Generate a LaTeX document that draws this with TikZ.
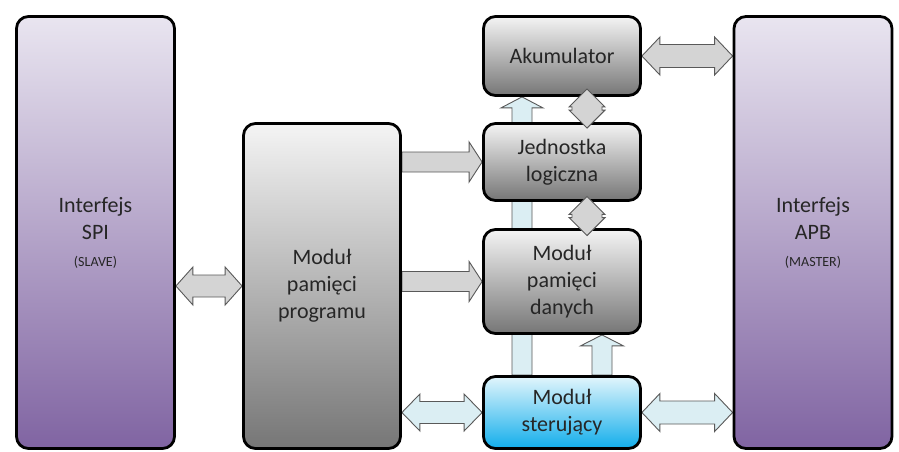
\documentclass[tikz,border=0pt]{standalone}
\usepackage{fontspec}
\setmainfont{Carlito}
\usetikzlibrary{calc,backgrounds}

\definecolor{purTop}{HTML}{E9E5F0}
\definecolor{purBot}{HTML}{8064A2}
\definecolor{gryTop}{HTML}{F4F4F4}
\definecolor{gryBot}{HTML}{767676}
\definecolor{bluTop}{HTML}{E2F5FC}
\definecolor{bluBot}{HTML}{12AEEB}
\definecolor{arrGray}{HTML}{D4D4D4}
\definecolor{arrBlue}{HTML}{DBEEF3}
\definecolor{arrEdge}{HTML}{595959}
\definecolor{txt}{HTML}{262626}

% horizontal double block arrow: style, left tip, right tip, shaft half width, head half width, head length
\newcommand\hdbl[6]{%
  \draw[#1] let \p1=(#2), \p2=(#3) in
    (\x1,\y1) -- (\x1+#6,\y1+#5) -- (\x1+#6,\y1+#4) -- (\x2-#6,\y1+#4) -- (\x2-#6,\y1+#5)
    -- (\x2,\y1) -- (\x2-#6,\y1-#5) -- (\x2-#6,\y1-#4) -- (\x1+#6,\y1-#4) -- (\x1+#6,\y1-#5) -- cycle;}
% horizontal single block arrow pointing right
\newcommand\hsgl[6]{%
  \draw[#1] let \p1=(#2), \p2=(#3) in
    (\x1,\y1+#4) -- (\x2-#6,\y1+#4) -- (\x2-#6,\y1+#5) -- (\x2,\y1)
    -- (\x2-#6,\y1-#5) -- (\x2-#6,\y1-#4) -- (\x1,\y1-#4) -- cycle;}
% vertical single block arrow pointing up: style, base, tip, ...
\newcommand\vsgl[6]{%
  \draw[#1] let \p1=(#2), \p2=(#3) in
    (\x1-#4,\y1) -- (\x1-#4,\y2-#6) -- (\x1-#5,\y2-#6) -- (\x1,\y2)
    -- (\x1+#5,\y2-#6) -- (\x1+#4,\y2-#6) -- (\x1+#4,\y1) -- cycle;}
% vertical double block arrow: style, upper tip, lower tip, ...
\newcommand\vdbl[6]{%
  \draw[#1] let \p1=(#2), \p2=(#3) in
    (\x1,\y1) -- (\x1+#5,\y1-#6) -- (\x1+#4,\y1-#6) -- (\x1+#4,\y2+#6) -- (\x1+#5,\y2+#6)
    -- (\x1,\y2) -- (\x1-#5,\y2+#6) -- (\x1-#4,\y2+#6) -- (\x1-#4,\y1-#6) -- (\x1-#5,\y1-#6) -- cycle;}

\tikzset{
  blk/.style={draw=black, line width=2.8pt, rounded corners=12pt, inner sep=0pt,
    align=center, text=txt, font=\fontsize{22}{27}\selectfont},
  purpleblk/.style={blk, top color=purTop, bottom color=purBot,
    minimum width=158pt, minimum height=432pt},
  grayblk/.style={blk, top color=gryTop, bottom color=gryBot, minimum width=157pt},
  blueblk/.style={blk, top color=bluTop, bottom color=bluBot, minimum width=157pt},
  grayarr/.style={draw=arrEdge, line width=0.9pt, fill=arrGray, line join=miter},
  bluearr/.style={draw=arrEdge, line width=0.9pt, fill=arrBlue, line join=miter},
  small/.style={font=\fontsize{14}{17}\selectfont},
}

\begin{document}
\begin{tikzpicture}[x=1pt,y=-1pt]
  \useasboundingbox (0,0) rectangle (899,451);

  % interfaces
  \node[purpleblk] (spi) at (95.5,232.5)
    {Interfejs\\SPI\\{\fontsize{14}{17}\selectfont (SLAVE)}};
  \node[purpleblk] (apb) at (813,232.5)
    {Interfejs\\APB\\{\fontsize{14}{17}\selectfont (MASTER)}};

  % program memory
  \node[grayblk, minimum height=325pt] (prog) at (322,286)
    {Moduł\\pamięci\\programu};

  % core column
  \node[grayblk, minimum height=79pt] (akum) at (562,56) {Akumulator};
  \node[grayblk, minimum height=77pt] (jl) at (562,162) {Jednostka\\logiczna};
  \node[grayblk, minimum height=104pt] (md) at (562,281.5) {Moduł\\pamięci\\danych};
  \node[blueblk, minimum height=72pt] (ms) at (562,412.5) {Moduł\\sterujący};

  \begin{scope}[on background layer]
    % buses
    \hdbl{grayarr}{spi.east |- prog.west}{prog.west}{11pt}{19pt}{17pt}
    \hsgl{grayarr}{prog.east |- jl.west}{jl.west}{10pt}{20pt}{13pt}
    \hsgl{grayarr}{prog.east |- md.west}{md.west}{10pt}{20pt}{13pt}
    \hdbl{bluearr}{prog.east |- ms.west}{ms.west}{11pt}{18.5pt}{18pt}
    \hdbl{grayarr}{akum.east}{apb.west |- akum.east}{11.5pt}{19pt}{18pt}
    \hdbl{bluearr}{ms.east}{apb.west |- ms.east}{11.5pt}{19pt}{18pt}
    % control lines
    \vsgl{bluearr}{[xshift=-40pt]ms.north}{[xshift=-40pt]akum.south}{10pt}{21pt}{11pt}
    \vsgl{bluearr}{[xshift=40pt]ms.north}{[xshift=40pt]md.south}{10pt}{21.5pt}{11pt}
  \end{scope}

  % data exchange between core blocks
  \vdbl{grayarr}{[xshift=25pt,yshift=8pt]akum.south}{[xshift=25pt,yshift=-6pt]jl.north}{15pt}{18pt}{18pt}
  \vdbl{grayarr}{[xshift=25pt,yshift=5.5pt]jl.south}{[xshift=25pt,yshift=-7.5pt]md.north}{15pt}{18pt}{18pt}
\end{tikzpicture}
\end{document}
